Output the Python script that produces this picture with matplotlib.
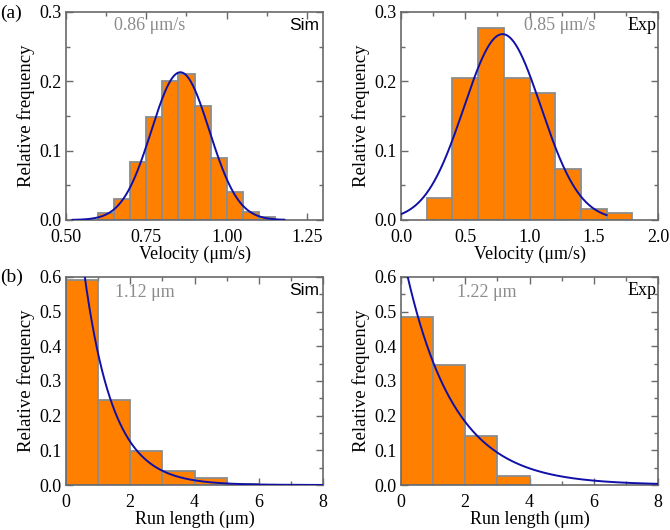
import numpy as np
import matplotlib
matplotlib.use("Agg")
import matplotlib.pyplot as plt
from matplotlib.ticker import MultipleLocator, FormatStrFormatter

# velocity histograms (relative frequency per bin)
sim_vel_edges = [0.60, 0.65, 0.70, 0.75, 0.80, 0.85, 0.90, 0.95, 1.00, 1.05, 1.10, 1.15]
sim_vel_freq = [0.010, 0.030, 0.084, 0.149, 0.200, 0.210, 0.165, 0.090, 0.041, 0.012, 0.004]
exp_vel_edges = [0.2, 0.4, 0.6, 0.8, 1.0, 1.2, 1.4, 1.6, 1.8]
exp_vel_freq = [0.031, 0.204, 0.277, 0.204, 0.183, 0.073, 0.016, 0.010]

# run length histograms
sim_run_edges = [0, 1, 2, 3, 4, 5, 6]
sim_run_freq = [0.590, 0.245, 0.097, 0.041, 0.019, 0.004]
exp_run_edges = [0, 1, 2, 3, 4]
exp_run_freq = [0.485, 0.345, 0.140, 0.027]

# fitted curves: gaussian (amp, mu, sigma) and exponential (amp, decay length)
sim_vel_fit = (0.213, 0.856, 0.090)
exp_vel_fit = (0.268, 0.79, 0.30)
sim_run_fit = (1.15, 0.90)
exp_run_fit = (0.69, 1.50)

labels_mean = ["0.86 \u03bcm/s", "0.85 \u03bcm/s", "1.12 \u03bcm", "1.22 \u03bcm"]

plt.rcParams['font.family'] = ['Liberation Serif', 'DejaVu Serif']

ORANGE = '#FF8000'
EDGE = '#8C8C8C'
BLUE = '#1010A8'
FRAME = '#6A6A6A'
GREY_TXT = '#8C8C8C'

fig = plt.figure(figsize=(6.7, 5.3), dpi=100)
W, H = 0.3836, 0.3925
ax1 = fig.add_axes([0.0985, 0.585, W, H])
ax2 = fig.add_axes([0.5985, 0.585, W, H])
ax3 = fig.add_axes([0.0985, 0.0849, W, H])
ax4 = fig.add_axes([0.5985, 0.0849, W, H])


def hist(ax, edges, freq):
    edges = np.array(edges)
    ax.bar(edges[:-1], freq, width=np.diff(edges), align='edge',
           color=ORANGE, edgecolor=EDGE, linewidth=1.3, zorder=2)


def style(ax, xlim, ylim, xmaj, xmin, ymaj, ymin, xlabel, fmt=None):
    ax.set_xlim(*xlim)
    ax.set_ylim(*ylim)
    ax.xaxis.set_major_locator(MultipleLocator(xmaj))
    ax.xaxis.set_minor_locator(MultipleLocator(xmin))
    ax.yaxis.set_major_locator(MultipleLocator(ymaj))
    ax.yaxis.set_minor_locator(MultipleLocator(ymin))
    ax.tick_params(which='both', direction='in', top=True, right=True,
                   colors=FRAME, labelcolor='black', labelsize=13)
    ax.tick_params(which='major', length=5, width=1)
    ax.tick_params(which='minor', length=3, width=1)
    ax.tick_params(axis='x', pad=6.5)
    ax.tick_params(axis='y', pad=3)
    for s in ax.spines.values():
        s.set_color(FRAME)
        s.set_linewidth(1.2)
    ax.set_xlabel(xlabel, fontsize=13, labelpad=0)
    ax.set_ylabel('Relative frequency', fontsize=13.5, labelpad=3)
    ax.yaxis.set_major_formatter(FormatStrFormatter('%.1f'))
    if fmt:
        ax.xaxis.set_major_formatter(FormatStrFormatter(fmt))


# (a) sim velocity
hist(ax1, sim_vel_edges, sim_vel_freq)
a, mu, sg = sim_vel_fit
x = np.linspace(0.52, 1.18, 300)
ax1.plot(x, a * np.exp(-(x - mu) ** 2 / (2 * sg ** 2)), color=BLUE, lw=1.4, zorder=3)
style(ax1, (0.5, 1.3), (0, 0.3), 0.25, 0.125, 0.1, 0.05, 'Velocity (\u03bcm/s)', '%.2f')
ax1.text(0.185, 0.937, labels_mean[0], transform=ax1.transAxes, color=GREY_TXT,
         fontsize=13, va='center')
ax1.text(0.985, 0.937, 'Sim', transform=ax1.transAxes, ha='right', va='center',
         fontsize=12.5, family=['Liberation Sans', 'DejaVu Sans'])

# (a) exp velocity
hist(ax2, exp_vel_edges, exp_vel_freq)
a, mu, sg = exp_vel_fit
x = np.linspace(0.0, 1.6, 300)
ax2.plot(x, a * np.exp(-(x - mu) ** 2 / (2 * sg ** 2)), color=BLUE, lw=1.4, zorder=3)
style(ax2, (0, 2.0), (0, 0.3), 0.5, 0.25, 0.1, 0.05, 'Velocity (\u03bcm/s)', '%.1f')
ax2.text(0.48, 0.937, labels_mean[1], transform=ax2.transAxes, color=GREY_TXT,
         fontsize=13, va='center')
ax2.text(0.995, 0.937, 'Exp', transform=ax2.transAxes, ha='right', va='center', fontsize=13)

# (b) sim run length
hist(ax3, sim_run_edges, sim_run_freq)
a, lam = sim_run_fit
x = np.linspace(0.0, 8, 400)
ax3.plot(x, a * np.exp(-x / lam), color=BLUE, lw=1.4, zorder=3)
style(ax3, (0, 8), (0, 0.6), 2, 1, 0.1, 0.05, 'Run length (\u03bcm)')
ax3.text(0.19, 0.925, labels_mean[2], transform=ax3.transAxes, color=GREY_TXT,
         fontsize=13, va='center')
ax3.text(0.985, 0.937, 'Sim', transform=ax3.transAxes, ha='right', va='center',
         fontsize=12.5, family=['Liberation Sans', 'DejaVu Sans'])

# (b) exp run length
hist(ax4, exp_run_edges, exp_run_freq)
a, lam = exp_run_fit
ax4.plot(x, a * np.exp(-x / lam), color=BLUE, lw=1.4, zorder=3)
style(ax4, (0, 8), (0, 0.6), 2, 1, 0.1, 0.05, 'Run length (\u03bcm)')
ax4.text(0.218, 0.925, labels_mean[3], transform=ax4.transAxes, color=GREY_TXT,
         fontsize=13, va='center')
ax4.text(0.995, 0.937, 'Exp', transform=ax4.transAxes, ha='right', va='center', fontsize=13)

fig.text(0.0, 0.975, '(a)', fontsize=14, va='center')
fig.text(0.0, 0.476, '(b)', fontsize=14, va='center')

fig.savefig('out.png', dpi=100)
